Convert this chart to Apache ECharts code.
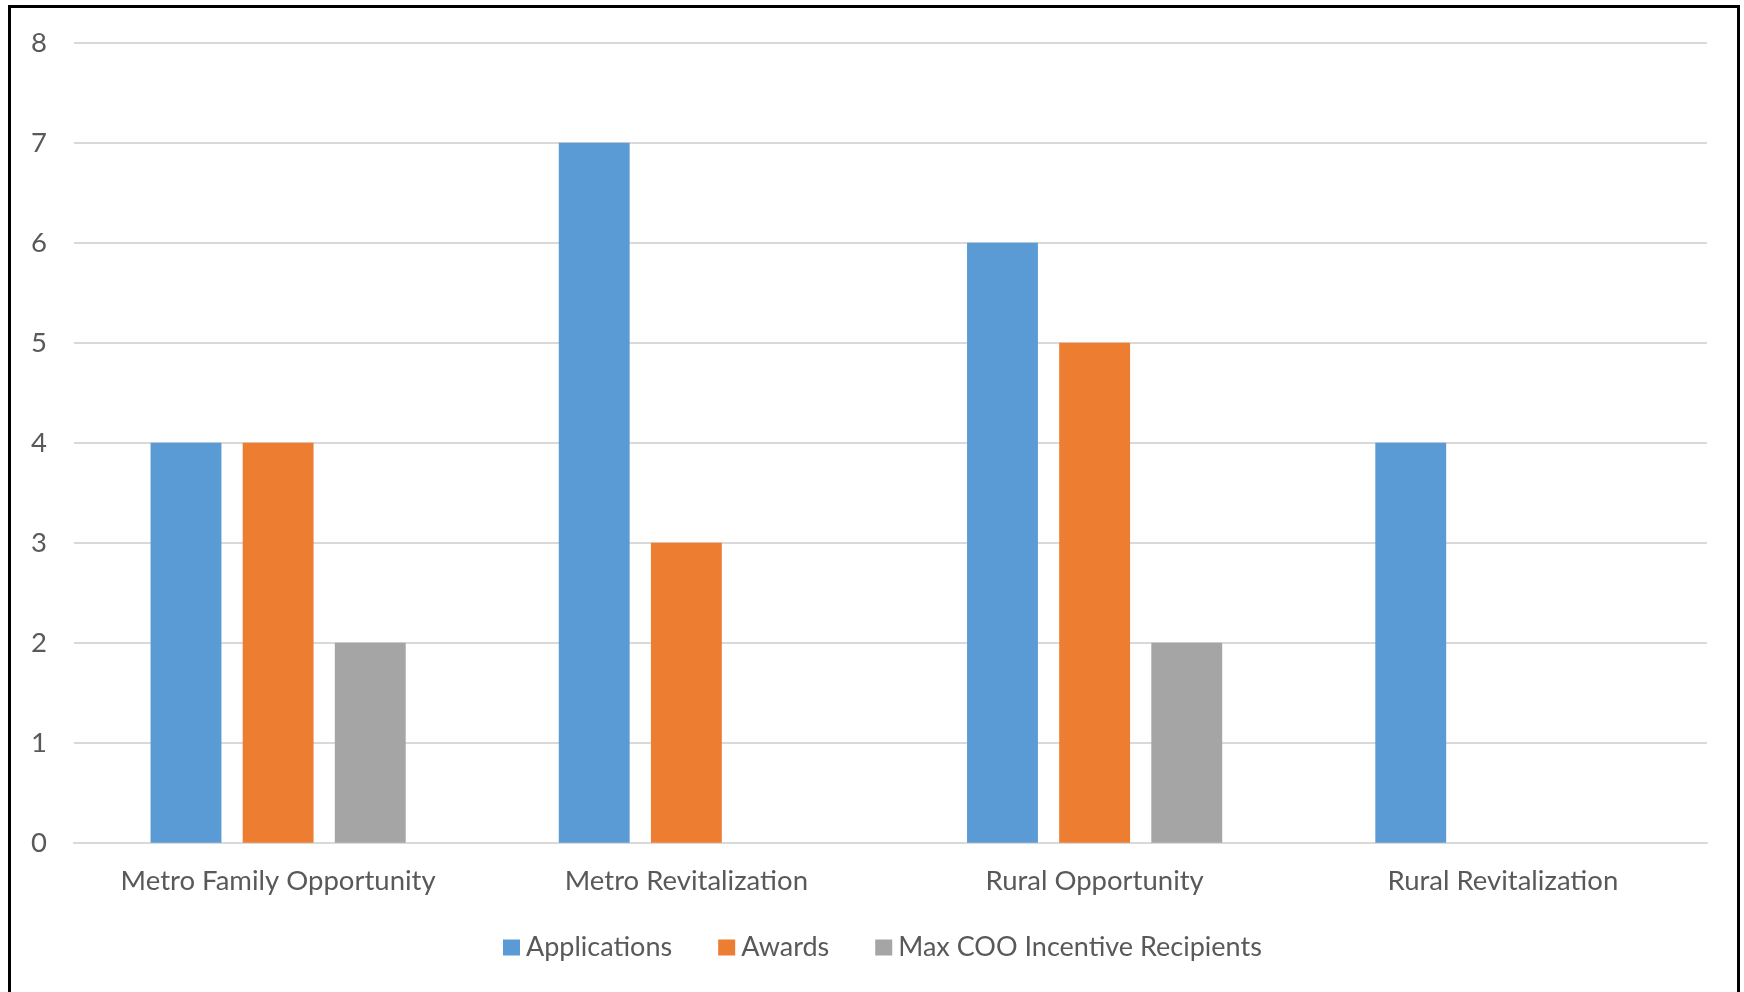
<!DOCTYPE html>
<html>
<head>
<meta charset="utf-8">
<script src="https://cdn.jsdelivr.net/npm/echarts@6/dist/echarts.min.js"></script>
<style>
  html, body { margin: 0; padding: 0; background: #fff; width: 1744px; height: 992px; overflow: hidden; }
  #frame { position: absolute; left: 8px; top: 5px; width: 1732px; height: 1000px; border: 3px solid #000; border-bottom: none; box-sizing: border-box; }
  #chart { position: absolute; left: 0; top: 0; width: 1744px; height: 992px; }
</style>
</head>
<body>
<div id="frame"></div>
<div id="chart"></div>
<script>
const categories = ['Metro Family Opportunity', 'Metro Revitalization', 'Rural Opportunity', 'Rural Revitalization'];
const applications = [4, 7, 6, 4];
const awards = [4, 3, 5, 0];
const maxCooIncentiveRecipients = [2, 0, 2, 0];
const seriesNames = ['Applications', 'Awards', 'Max COO Incentive Recipients'];
const yTicks = [0, 1, 2, 3, 4, 5, 6, 7, 8];

const FONT = 'Lato';
const chart = echarts.init(document.getElementById('chart'), null, { renderer: 'canvas' });
const textColor = '#595959';
const colors = ['#5B9BD5', '#ED7D31', '#A5A5A5'];
const data = [applications, awards, maxCooIncentiveRecipients];

chart.setOption({
  animation: false,
  color: colors,
  textStyle: { fontFamily: FONT },
  grid: { left: 74, right: 37, top: 42.7, bottom: 149.3, containLabel: false },
  legend: {
    bottom: 31,
    left: 503,
    padding: 0,
    itemWidth: 17,
    itemHeight: 16,
    itemGap: 46,
    icon: 'rect',
    textStyle: { color: textColor, fontSize: 27, fontFamily: FONT, padding: [0, 0, 0, 1] },
    data: seriesNames
  },
  xAxis: {
    type: 'category',
    data: categories,
    axisLine: { show: true, lineStyle: { color: '#D9D9D9', width: 2 } },
    axisTick: { show: false },
    axisLabel: { color: textColor, fontSize: 27.5, fontFamily: FONT, margin: 24, interval: 0 },
    splitLine: { show: false }
  },
  yAxis: {
    type: 'value',
    min: yTicks[0],
    max: yTicks[yTicks.length - 1],
    interval: 1,
    axisLine: { show: false },
    axisTick: { show: false },
    axisLabel: { color: textColor, fontSize: 27.5, fontFamily: FONT, margin: 27 },
    splitLine: { show: true, lineStyle: { color: '#D9D9D9', width: 2 } }
  },
  series: seriesNames.map((name, i) => ({
    name: name,
    type: 'bar',
    data: data[i],
    barGap: '30%',
    barCategoryGap: '37.5%',
    itemStyle: { color: colors[i] }
  }))
});
</script>
</body>
</html>
